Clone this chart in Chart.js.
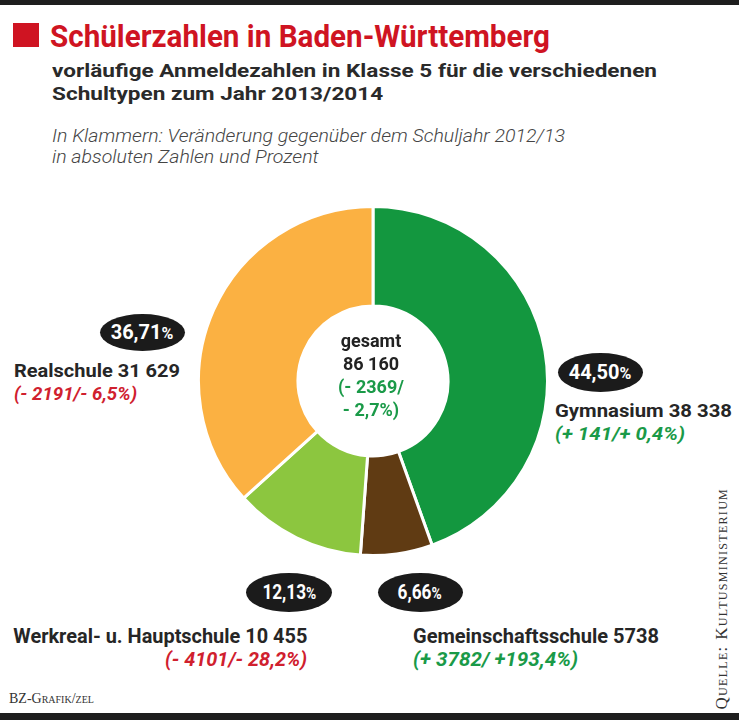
<!DOCTYPE html>
<html lang="de">
<head>
<meta charset="utf-8">
<title>Schülerzahlen in Baden-Württemberg</title>
<script src="https://cdn.jsdelivr.net/npm/chart.js@4.4.1/dist/chart.umd.min.js"></script>
<style>
  html, body { margin: 0; padding: 0; background: #fff; }
  body { width: 739px; height: 720px; position: relative; overflow: hidden; font-family: Roboto, "Liberation Sans", sans-serif; color: #222; }
  .abs { position: absolute; white-space: nowrap; }
  .bar { position: absolute; left: 0; width: 739px; background: #1e1e1e; }
  .pill { position: absolute; background: #1b1b1b; color: #fff; border-radius: 50%; display: flex; align-items: center; justify-content: center; font-weight: bold; font-size: 20px; }
  .pill span { display: inline-block; }
  .pill small { font-size: 0.8em; }
  .name { font-weight: bold; line-height: 1; color: #262626; }
  .chg { font-weight: bold; font-style: italic; line-height: 1; }
  .up { color: #1a9a48; }
  .down { color: #d0202e; }
  .sc { font-family: "Liberation Serif", "DejaVu Serif", serif; font-variant: small-caps; color: #333; }
</style>
</head>
<body>
<div class="bar" style="top:0;height:5px"></div>
<div class="abs" style="left:13px;top:23px;width:26px;height:24px;background:#cf1422"></div>
<div id="title" class="abs" style="left:50px;top:21px;font-size:31px;line-height:1;font-weight:bold;color:#cf1422">Schülerzahlen in Baden-Württemberg</div>
<div id="sub" class="abs" style="left:52px;top:59px;font-size:19px;line-height:23px;font-weight:bold;color:#2a2a2a">vorläufige Anmeldezahlen in Klasse 5 für die verschiedenen<br>Schultypen zum Jahr 2013/2014</div>
<div id="note" class="abs" style="left:52px;top:125px;font-size:19px;line-height:21px;font-weight:300;font-style:italic;color:#444">In Klammern: Veränderung gegenüber dem Schuljahr 2012/13<br>in absoluten Zahlen und Prozent</div>

<div id="wrap" style="position:absolute;left:197px;top:205px;width:352px;height:352px">
  <canvas id="chart"></canvas>
</div>

<div id="center" class="abs" style="left:301px;top:329px;width:140px;text-align:center;font-size:18px;line-height:23px;font-weight:bold"></div>
<div id="labels"></div>

<div class="abs sc" style="left:9px;top:692px;font-size:14px;line-height:1">BZ-Grafik/zel</div>
<div id="quelle" class="abs sc" style="left:603px;top:583px;width:236px;font-size:17px;line-height:1;letter-spacing:1.3px;transform:rotate(-90deg);transform-origin:center;text-align:left">Quelle: Kultusministerium</div>
<div class="bar" style="top:713px;height:7px"></div>

<script>
// Anmeldezahlen Klasse 5, Schuljahr 2013/14
const labels = ['Gymnasium', 'Gemeinschaftsschule', 'Werkreal- u. Hauptschule', 'Realschule'];
const values = [38338, 5738, 10455, 31629];
const changes = ['(+ 141/+ 0,4%)', '(+ 3782/ +193,4%)', '(- 4101/- 28,2%)', '(- 2191/- 6,5%)'];
const rising = [true, true, false, false];
const totalChange = ['(- 2369/', '- 2,7%)'];
const colors = ['#13973f', '#603b13', '#8cc63f', '#fbb142'];

// Positionen und Breiten der Beschriftungen (Seitenpixel)
const layout = [
  { pill: [600, 372, 85, 39], x: 555, y: 417, align: 'left', fs: 18, w: [177, 130] },
  { pill: [420, 592, 85, 39], x: 413, y: 643, align: 'left', fs: 20, w: [246, 165] },
  { pill: [289, 592, 86, 39], x: 307, y: 643, align: 'right', fs: 20, w: [294, 142] },
  { pill: [142, 332, 85, 37], x: 14, y: 377, align: 'left', fs: 18, w: [166, 123] },
];

const total = values.reduce((a, b) => a + b, 0);
const fmt = (n) => n >= 10000 ? String(n).replace(/(\d)(?=(\d{3})+$)/g, '$1 ') : String(n);

// Text horizontal auf Zielbreite bringen (schmale Schrift nicht installiert)
function fit(el, width, origin) {
  const cur = el.getBoundingClientRect().width;
  el.style.transformOrigin = origin || 'left';
  el.style.transform = 'scaleX(' + (width / cur) + ')';
}

new Chart(document.getElementById('chart'), {
  type: 'doughnut',
  data: {
    labels: labels,
    datasets: [{
      data: values,
      backgroundColor: colors,
      borderColor: '#fff',
      borderWidth: 3,
    }],
  },
  options: {
    responsive: true,
    maintainAspectRatio: false,
    animation: false,
    cutout: '43%',
    plugins: {
      legend: { display: false },
      tooltip: { enabled: false },
    },
  },
});

// Mitte
const center = document.getElementById('center');
center.innerHTML = 'gesamt<br>' + fmt(total) + '<br><span class="up">' + totalChange[0] + '<br>' + totalChange[1] + '</span>';

// Beschriftungen
const box = document.getElementById('labels');
labels.forEach((name, i) => {
  const l = layout[i];
  const pct = (values[i] / total * 100).toFixed(2).replace('.', ',');
  const pill = document.createElement('div');
  pill.className = 'pill';
  const [cx, cy, w, h] = l.pill;
  pill.style.cssText = `left:${cx - w / 2}px;top:${cy - h / 2}px;width:${w}px;height:${h}px`;
  const inner = document.createElement('span');
  inner.innerHTML = pct + '<small>%</small>';
  pill.appendChild(inner);
  box.appendChild(pill);
  if (l.fs > 18) inner.style.transform = 'scaleX(0.86)';

  const pos = l.align === 'left' ? `left:${l.x}px` : `right:${739 - l.x}px;text-align:right`;
  const n = document.createElement('div');
  n.className = 'abs name';
  n.style.cssText = `${pos};top:${l.y - 0.84 * l.fs}px;font-size:${l.fs}px`;
  n.textContent = name + ' ' + fmt(values[i]);
  box.appendChild(n);
  fit(n, l.w[0], l.align);

  const c = document.createElement('div');
  c.className = 'abs chg ' + (rising[i] ? 'up' : 'down');
  c.style.cssText = `${pos};top:${l.y + 23 - 0.84 * l.fs}px;font-size:${l.fs}px`;
  c.textContent = changes[i];
  box.appendChild(c);
  fit(c, l.w[1], l.align);
});

fit(document.getElementById('title'), 500);
fit(document.getElementById('sub'), 605);
fit(document.getElementById('note'), 513);
</script>
</body>
</html>
